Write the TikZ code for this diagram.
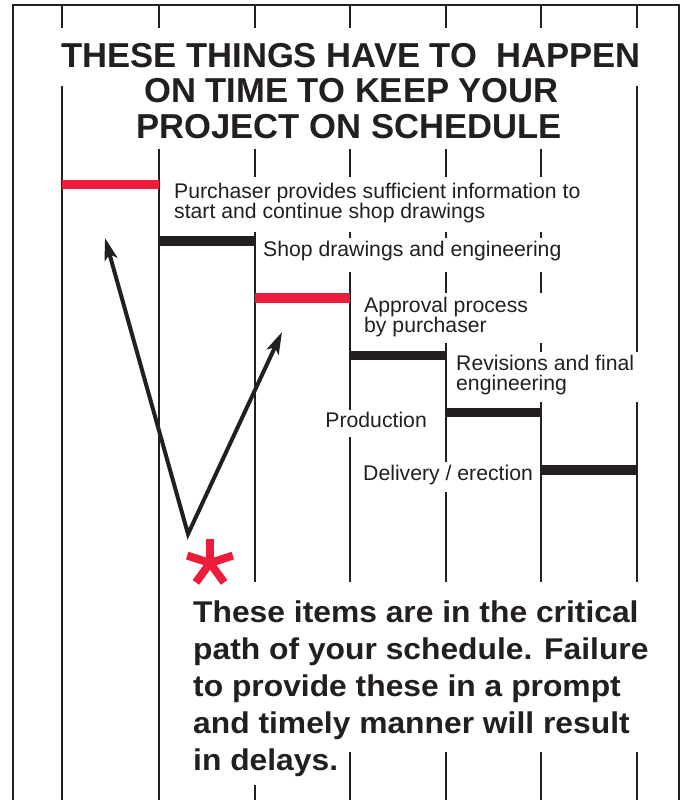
\documentclass[tikz,border=0pt]{standalone}
\usepackage{fontspec}
\setmainfont{Liberation Sans}
\newfontfamily\boldwide[FakeStretch=1.06]{Liberation Sans Bold}
\usetikzlibrary{arrows.meta}
\definecolor{inkblack}{RGB}{35,31,32}
\definecolor{critred}{RGB}{237,28,58}
\begin{document}
\begin{tikzpicture}[x=1pt,y=-1pt,
  grid/.style={draw=inkblack, line width=2pt},
  bar/.style={line width=9.5pt},
  lbl/.style={anchor=base west, inner sep=0pt, font=\fontsize{21.2}{21}\selectfont, text=inkblack},
  ttl/.style={anchor=base, inner sep=0pt, font=\fontsize{34.6}{36}\selectfont\bfseries, text=inkblack},
  note/.style={anchor=base west, inner sep=0pt, font=\fontsize{30}{37}\selectfont\boldwide, text=inkblack},
  pointer/.style={draw=inkblack, line width=4pt, line join=miter,
    {Stealth[length=22pt,width=13pt,inset=5pt]}-{Stealth[length=22pt,width=13pt,inset=5pt]}},
  starm/.style={draw=critred, line width=8pt}
]
\useasboundingbox (0,0) rectangle (683,800);
\fill[white] (0,0) rectangle (683,800);

% frame
\draw[grid] (13,800) -- (13,5) -- (679,5) -- (679,800);

% vertical time lines (broken where text sits)
\foreach \x/\a/\b in {62/5/28, 62/86/800,
  159/5/28, 159/149/800,
  255/5/28, 255/149/177, 255/232/582, 255/785/800,
  350/5/28, 350/149/177, 350/232/238, 350/272/410, 350/437/582, 350/752/800,
  446/5/28, 446/149/177, 446/232/238, 446/272/293, 446/343/462, 446/492/582, 446/752/800,
  541/5/28, 541/149/177, 541/232/238, 541/272/293, 541/343/352, 541/402/582, 541/752/800,
  637/5/28, 637/86/352, 637/402/582, 637/752/800}
  \draw[grid] (\x,\a) -- (\x,\b);

% bars
\draw[bar, critred]  (62,184.5) -- (159,184.5);
\draw[bar, inkblack] (159,241) -- (255,241);
\draw[bar, critred]  (255,298) -- (350,298);
\draw[bar, inkblack] (350,355.5) -- (446,355.5);
\draw[bar, inkblack] (446,412.5) -- (541,412.5);
\draw[bar, inkblack] (541,470) -- (637,470);

% title
\node[ttl] (h1) at (351,67) {THESE THINGS HAVE TO~~HAPPEN};
\node[ttl] (h2) at (351.5,102.5) {ON TIME TO KEEP YOUR};
\node[ttl] (h3) at (349,138) {PROJECT ON SCHEDULE};

% step labels
\node[lbl] (t1a) at (174,198) {Purchaser provides sufficient information to};
\node[lbl] (t1b) at (174,218) {start and continue shop drawings};
\node[lbl] (t2) at (263,256) {Shop drawings and engineering};
\node[lbl] (t3a) at (364,312) {Approval process};
\node[lbl] (t3b) at (364,332) {by purchaser};
\node[lbl] (t4a) at (456,370) {Revisions and final};
\node[lbl] (t4b) at (456,390) {engineering};
\node[lbl, anchor=base east] (t5) at (427,427) {Production};
\node[lbl] (t6) at (363,480) {Delivery / erection};

% arrows
\coordinate (vtx) at (188,534);
\coordinate (tipL) at (105,238);
\coordinate (tipR) at (282,332);
\draw[pointer] (tipL) -- (vtx) -- (tipR);

% asterisk
\coordinate (star) at (210,563);
\foreach \ang in {90,18,162,-54,-126}
  \draw[starm] (star) -- ++(\ang:24pt);

% note
\node[note] (n1) at (193,622) {These items are in the critical};
\node[note] (n2) at (193,659) {path of your schedule. Failure};
\node[note] (n3) at (193,696) {to provide these in a prompt};
\node[note] (n4) at (193,733) {and timely manner will result};
\node[note] (n5) at (193,770) {in delays.};
\end{tikzpicture}
\end{document}
